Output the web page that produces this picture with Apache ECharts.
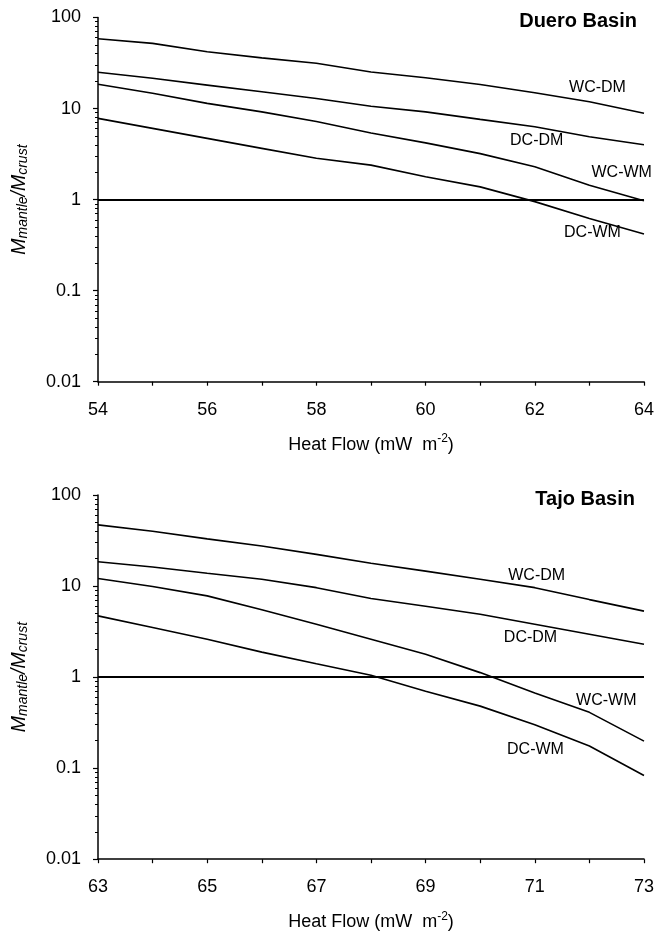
<!DOCTYPE html>
<html>
<head>
<meta charset="utf-8">
<script src="https://cdn.jsdelivr.net/npm/echarts@6/dist/echarts.min.js"></script>
<style>
html,body{margin:0;padding:0;background:#fff;}
#chart{width:657px;height:937px;}
</style>
</head>
<body>
<div id="chart"></div>
<script>
// ---- data ----
const dueroX = [54, 55, 56, 57, 58, 59, 60, 61, 62, 63, 64];
const dueroWCDM = [58.5, 52, 42, 36, 31.4, 25.2, 21.8, 18.4, 14.9, 11.9, 8.9];
const dueroDCDM = [25, 21.5, 18.1, 15.3, 12.9, 10.6, 9.2, 7.6, 6.3, 4.9, 4.0];
const dueroWCWM = [18.5, 14.7, 11.4, 9.2, 7.2, 5.4, 4.2, 3.2, 2.3, 1.44, 0.97];
const dueroDCWM = [7.8, 6.06, 4.7, 3.65, 2.84, 2.39, 1.78, 1.38, 0.95, 0.62, 0.42];

const tajoX = [63, 64, 65, 66, 67, 68, 69, 70, 71, 72, 73];
const tajoWCDM = [47, 40, 33, 27.5, 22.3, 17.8, 14.6, 11.9, 9.6, 7.1, 5.3];
const tajoDCDM = [18.5, 16.2, 13.8, 11.9, 9.6, 7.3, 6.0, 4.9, 3.8, 2.95, 2.29];
const tajoWCWM = [12.1, 9.9, 7.8, 5.5, 3.8, 2.6, 1.78, 1.12, 0.67, 0.41, 0.198];
const tajoDCWM = [4.7, 3.5, 2.6, 1.88, 1.4, 1.05, 0.70, 0.48, 0.30, 0.175, 0.083];

const yMajorTicks = [0.01, 0.1, 1, 10, 100];
const yTickLabels = ['0.01', '0.1', '1', '10', '100'];
const referenceLevel = 1;
const seriesNames = ['WC-DM', 'DC-DM', 'WC-WM', 'DC-WM'];
const panelTitles = ['Duero Basin', 'Tajo Basin'];

// ---- build ----
const FONT = '"Liberation Sans", Arial, sans-serif';
const minorTicks = [];
[0.01, 0.1, 1, 10].forEach(d => { for (let k = 2; k <= 9; k++) minorTicks.push(+(k * d).toPrecision(2)); });

function xAxisFor(gi, min, max) {
  return {
    type: 'value', gridIndex: gi, min: min, max: max, interval: 1,
    axisLine: { show: true, onZero: false, lineStyle: { color: '#000', width: 1.5 } },
    axisTick: { show: true, length: 4, inside: false, lineStyle: { color: '#000', width: 1.2 } },
    axisLabel: {
      color: '#000', fontFamily: FONT, fontSize: 18, margin: 19,
      formatter: v => ((v - min) % 2 === 0 ? String(v) : '')
    },
    splitLine: { show: false },
    name: 'Heat Flow (mW  m{sup|-2})',
    nameLocation: 'middle', nameGap: 75,
    nameTextStyle: {
      color: '#000', fontFamily: FONT, fontSize: 18, lineHeight: 24, verticalAlign: 'bottom',
      rich: { sup: { fontFamily: FONT, fontSize: 12, color: '#000', lineHeight: 24, verticalAlign: 'top', padding: [0, 0, 0, 0] } }
    }
  };
}
function yMain(gi) {
  return {
    type: 'log', logBase: 10, gridIndex: gi, min: 0.01, max: 100,
    axisLine: { show: true, onZero: false, lineStyle: { color: '#000', width: 1.5 } },
    axisTick: { show: true, length: 5, customValues: yMajorTicks, lineStyle: { color: '#000', width: 1.2 } },
    axisLabel: {
      color: '#000', fontFamily: FONT, fontSize: 18, margin: 17, customValues: yMajorTicks,
      formatter: v => { const i = yMajorTicks.findIndex(t => Math.abs(Math.log10(t) - Math.log10(v)) < 1e-6); return i >= 0 ? yTickLabels[i] : ''; }
    },
    splitLine: { show: false },
    name: '{i|M}{s|mantle}{i|/M}{s|crust}',
    nameLocation: 'middle', nameRotate: 90, nameGap: 68,
    nameTextStyle: {
      color: '#000',
      rich: {
        i: { fontFamily: FONT, fontStyle: 'italic', fontSize: 19.5, color: '#000', lineHeight: 22, verticalAlign: 'bottom' },
        s: { fontFamily: FONT, fontStyle: 'italic', fontSize: 14, color: '#000', lineHeight: 16, verticalAlign: 'bottom' }
      }
    }
  };
}
function yMinor(gi) {
  return {
    type: 'log', logBase: 10, gridIndex: gi, min: 0.01, max: 100, position: 'left',
    axisLine: { show: false },
    axisTick: { show: true, length: 3, customValues: minorTicks, lineStyle: { color: '#000', width: 1 } },
    axisLabel: { show: false },
    splitLine: { show: false }
  };
}
function lineSeries(xs, ys, xi, yi, withRef) {
  const s = {
    type: 'line', xAxisIndex: xi, yAxisIndex: yi, symbol: 'none', silent: true,
    data: xs.map((x, i) => [x, ys[i]]),
    lineStyle: { color: '#000', width: 1.6 }
  };
  if (withRef) {
    s.markLine = {
      silent: true, symbol: 'none', label: { show: false },
      lineStyle: { color: '#000', width: 2.2, type: 'solid' },
      data: [{ yAxis: referenceLevel }]
    };
  }
  return s;
}
function txt(x, y, t, size, bold, align) {
  return {
    type: 'text', x: x, y: y, silent: true,
    style: { text: t, fill: '#000', font: (bold ? 'bold ' : '') + size + 'px ' + FONT, textAlign: align || 'center', textVerticalAlign: 'middle' }
  };
}

const option = {
  animation: false,
  backgroundColor: '#fff',
  grid: [
    { left: 98, right: 13, top: 17.5, height: 364.2 },
    { left: 98, right: 13, top: 495, height: 364.2 }
  ],
  xAxis: [xAxisFor(0, 54, 64), xAxisFor(1, 63, 73)],
  yAxis: [yMain(0), yMinor(0), yMain(1), yMinor(1)],
  series: [
    lineSeries(dueroX, dueroWCDM, 0, 0, true),
    lineSeries(dueroX, dueroDCDM, 0, 0),
    lineSeries(dueroX, dueroWCWM, 0, 0),
    lineSeries(dueroX, dueroDCWM, 0, 0),
    lineSeries(tajoX, tajoWCDM, 1, 2, true),
    lineSeries(tajoX, tajoDCDM, 1, 2),
    lineSeries(tajoX, tajoWCWM, 1, 2),
    lineSeries(tajoX, tajoDCWM, 1, 2)
  ],
  graphic: [
    txt(637, 21, panelTitles[0], 20, true, 'right'),
    txt(635, 499.5, panelTitles[1], 20, true, 'right'),
    txt(597.5, 88, seriesNames[0], 16),
    txt(536.7, 140.5, seriesNames[1], 16),
    txt(621.7, 172.7, seriesNames[2], 16),
    txt(592.5, 233, seriesNames[3], 16),
    txt(536.7, 575.7, seriesNames[0], 16),
    txt(530.5, 637.2, seriesNames[1], 16),
    txt(606.3, 701, seriesNames[2], 16),
    txt(535.5, 749.8, seriesNames[3], 16)
  ]
};
const chart = echarts.init(document.getElementById('chart'), null, { renderer: 'canvas' });
chart.setOption(option);
</script>
</body>
</html>
